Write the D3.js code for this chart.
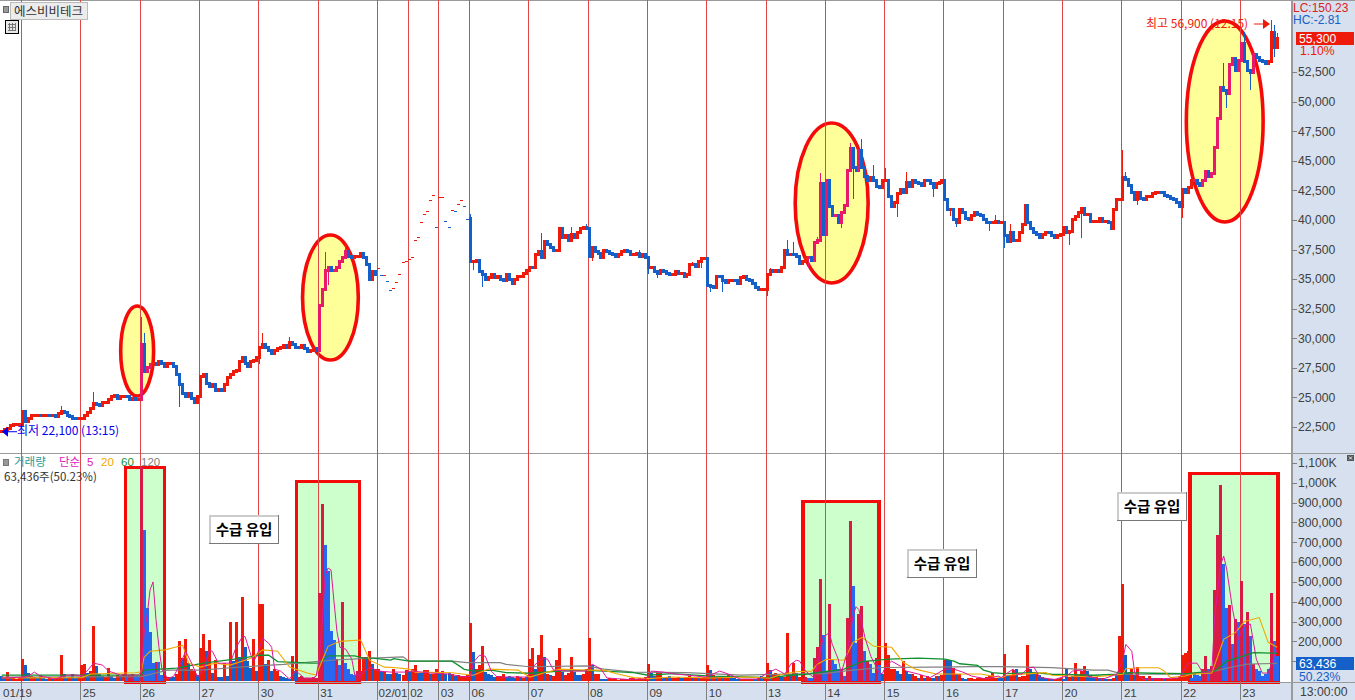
<!DOCTYPE html>
<html><head><meta charset="utf-8">
<script src="https://cdn.jsdelivr.net/npm/d3@7/dist/d3.min.js"></script>
<style>
html,body{margin:0;padding:0;background:#fff;overflow:hidden}
svg{display:block}
text{font-family:"Liberation Sans","Noto Sans CJK KR",sans-serif}
.kr{font-family:"Noto Sans CJK KR","Liberation Sans",sans-serif}
</style></head><body>
<svg id="c" width="1355" height="700"></svg>
<script>
// ---- sessions -------------------------------------------------------
const dayLabels=["01/19","25","26","27","30","31","02/01","02","03","06","07","08","09","10","13","14","15","16","17","20","21","22","23"];
const flatSessions=["02/01","02","03"]; // single-price sessions drawn as dashes
// ---- closing prices, one list per session ---------------------------
const closePre=[22150,22250,22400,22650,22750,22750,22750];
const close0119=[23800,23000,23200,23450,23500,23500,23450,23450,23500,23450,23450,23350,23600,23850,23700,23500,23350,23250,23200,23200];
const close25=[23250,23450,23700,24100,24450,24400,24300,24550,24600,24800,25050,25200,24950,25050,25100,25050,24850,24950,24850,24850];
const close26=[29450,27150,27500,27750,27900,27750,28000,27850,27650,27850,27900,27650,26900,26050,25350,25100,25300,24950,24600,25100];
const close27=[26800,26900,26150,25950,26050,25550,25650,25550,26050,26650,26900,27150,27300,28000,28400,27900,27650,28000,28150,28400];
const close30=[29250,29450,29250,29000,28750,29000,29100,29250,29350,29200,29600,29450,29250,29200,29350,29100,28850,29000,29100,29000];
const close31=[32800,34100,35750,35950,35750,35750,35950,36450,36800,37300,36950,36850,36950,36950,37200,36800,36200,34950,35600,35350];
const close0201=[35950,35350,35350,34850,34100,34250,34750,35450,36450,36500];
const close02=[36700,36850,38300,38550,39850,40500,40750,41700,42100,39400];
const close03=[41950,41950,39900,39400,40850,40750,41350,41700,41200,40100];
const close06=[36450,36500,36600,35600,35350,34950,35100,35350,35150,35250,35000,34850,35350,34950,34600,35000,35200,35250,35450,35700];
const close07=[36000,35950,37100,37300,36800,38150,37900,37700,37450,37450,39300,38550,38700,38300,38800,38550,38900,39300,39400,39300];
const close08=[36950,37650,37300,37200,36850,37450,37300,37200,37050,36950,37100,37300,37450,37300,37050,37100,37200,36950,37050,36850];
const close09=[35950,35950,35600,35500,35750,35600,35500,35350,35350,35600,35450,35450,35200,35350,36250,36250,36100,36450,36700,36700];
const close10=[34500,34350,34250,35250,35200,34900,34750,34900,34900,34850,34650,35100,35200,35000,34900,34650,34250,34100,34150,34150];
const close13=[35350,35750,35600,35750,35600,36000,37450,37050,37100,37050,36950,36350,36450,36800,36800,36600,38050,38300,43050,38800];
const close14=[43350,41100,40400,40400,39750,40650,41250,44200,46050,44450,44200,45900,44400,43650,43350,43550,43350,42850,42750,43350];
const close15=[43350,42000,41100,41450,42200,42550,42300,43200,42850,43350,43200,43050,42950,43350,43300,43050,42700,43050,43200,43350];
const close16=[41700,40850,40850,40000,39800,40850,40600,40150,40000,40400,40650,40500,40350,40000,39800,39750,39750,39900,39800,39800];
const close17=[38700,38150,38900,38300,38300,38950,39650,41250,39800,39300,38900,38800,38550,38800,38950,38900,38650,38550,38700,38800];
const close20=[39400,38950,39050,40000,40250,40650,41000,40500,40500,39900,39900,39900,40150,39900,39900,39750,39300,40900,41750,41750];
const close21=[43550,43450,42950,42300,41700,42300,41850,41750,41950,42000,42200,42350,42350,42300,42100,41950,41850,41750,41500,41150];
const close22=[42550,42350,42700,43350,43350,43100,42950,43350,44050,43700,43900,46150,48600,51200,50900,50700,53100,53600,52650,53500];
const close23=[54950,53350,52650,52500,53950,53750,53500,53350,53250,53350,55850,54550,55300];
// ---- wick extremes: [bar number, price] -----------------------------
const wickHigh=[[20,24250],[31,25450],[47,31800],[48,30450],[88,30450],[97,30100],[109,37300],[116,37950],[157,40500],[181,38900],[191,39400],[196,39650],[214,37450],[232,36450],[258,35950],[264,38300],[266,38150],[274,38550],[275,43950],[278,42600],[285,46500],[289,46850],[293,44650],[297,44350],[304,44050],[334,40400],[339,39650],[377,45900],[378,44050],[411,53250],[418,55850],[427,56900],[428,56450],[429,55800]];
const wickLow=[[9,22800],[60,24200],[87,27850],[110,34500],[158,35750],[161,34300],[198,36500],[217,35450],[220,35100],[235,35950],[238,33900],[242,33950],[257,33550],[271,35900],[282,39300],[286,41800],[298,41900],[301,40250],[313,41950],[319,40350],[321,39400],[332,39050],[337,37600],[359,37850],[363,38450],[382,41250],[397,40150],[412,49450],[420,51000],[428,53800]];
// ---- volume in thousands of shares, one list per session ------------
const volPre=[25,20,47,15,15,12,20];
const vol0119=[110,80,40,25,20,17,30,13,10,20,10,13,13,130,33,17,20,37,17,20];
const vol25=[80,85,40,50,280,75,33,25,20,65,25,17,30,25,33,25,30,33,25,25];
const vol26=[1080,760,370,245,90,98,98,30,17,20,20,20,35,200,115,213,90,60,50,30];
const vol27=[165,237,150,208,40,105,20,20,90,25,300,100,300,120,425,170,100,65,213,50];
const vol30=[390,390,85,105,50,60,50,25,20,15,10,125,50,20,25,15,15,15,20,15];
const vol31=[445,895,685,555,250,208,110,80,400,90,60,35,30,50,50,120,120,150,85,60];
const vol0201=[60,50,45,35,35,60,40,35,30,55];
const vol02=[45,60,80,40,40,55,55,35,35,60];
const vol03=[40,50,35,40,35,25,30,25,25,30];
const vol06=[295,147,60,80,177,47,35,30,20,25,25,35,20,25,20,15,25,20,15,20];
const vol07=[113,164,60,130,231,123,35,30,25,105,164,45,30,40,120,45,30,30,35,60];
const vol08=[216,80,35,35,10,10,10,15,10,10,5,12,8,8,15,15,10,15,10,18];
const vol09=[85,40,25,40,40,15,20,25,15,15,20,15,15,20,25,15,15,15,15,20];
const vol10=[80,55,30,20,20,18,25,35,20,15,12,10,8,8,8,8,8,15,25,20];
const vol13=[90,55,35,40,30,25,20,240,35,90,40,20,15,20,15,15,118,170,515,233];
const vol14=[50,390,105,85,60,60,25,320,808,480,190,338,380,150,100,85,40,118,80,35];
const vol15=[190,130,60,60,50,35,100,50,35,35,25,15,30,15,25,15,15,25,25,30];
const vol16=[105,105,105,65,35,35,15,12,15,15,12,15,15,15,20,25,40,15,15,15];
const vol17=[135,30,30,55,60,20,25,25,180,60,40,40,30,20,15,12,10,10,12,15];
const vol20=[10,60,20,25,93,30,50,76,50,30,20,20,15,15,12,10,10,15,30,225];
const vol21=[490,130,40,60,30,70,25,25,15,25,15,15,15,15,12,12,12,15,15,25];
const vol22=[132,140,150,15,40,30,25,60,127,60,75,460,737,990,590,370,383,185,315,300];
const vol23=[503,287,346,228,85,60,50,25,35,60,445,200,125];
// r = up bar, b = down bar
const volDirs="bbrbrrr"+"rbbrrbrbbrbrrrbbrbbr"+"rrbrrbbbrrbbrbrbrrbb"+"rbbbbrbbrrbbrrbrbrrb"+"rrbrbrbbrbrbrbrbbbrb"+"rrbrbrrbbbbrbrrrrrrr"+"rrbbbbrbrbbbbrrrbrbr"+"rbrbbrbbrr"+"brrbbrrbrr"+"brbbrbrrrr"+"rbrrrbbbbrrrbbbbrbrb"+"rrbrrbrbrrrbrrrbbbrr"+"rbrrbbbrrrrrrrrrrrrr"+"rbbrrbrbrrrbrrrbrbrr"+"rbrbrbrrbbbrrrrrbrbr"+"rbrrrbrrbrbrrrbbrrrb"+"brbbbrbrrbbrrbrbbrbb"+"rrrrbbrbbrrbrbrrbrbr"+"rbbrbrbbrrrrrrrrrrbb"+"rbrrbrrrrbbrbbbrbrrr"+"bbrbrbrrbbbrbrbrbrbr"+"rbbrbrrrbrbrrrbrrrrr"+"rrrbbbbrrbrrrrbbrbrb"+"rbrbrbbbbbrbb";
// ---- moving averages, sparse readings: [bar number, thousand shares] -
const ma5=[[0,15],[8,20],[10,35],[11,45],[13,25],[18,10],[22,30],[25,30],[27,25],[29,55],[31,90],[34,80],[36,50],[40,30],[46,30],[47,45],[48,240],[49,330],[50,460],[51,500],[52,310],[53,170],[54,60],[56,10],[58,25],[60,80],[62,150],[64,90],[66,20],[68,60],[70,155],[71,150],[73,90],[77,90],[79,170],[81,220],[82,225],[84,130],[85,100],[86,130],[88,215],[90,190],[91,170],[92,60],[94,50],[97,10],[99,50],[100,40],[102,15],[105,15],[106,25],[107,110],[108,290],[109,530],[110,570],[111,560],[112,400],[113,250],[114,170],[116,160],[118,110],[119,30],[121,30],[124,70],[127,50],[131,45],[136,45],[138,50],[144,40],[150,35],[155,20],[157,25],[158,95],[160,130],[162,125],[164,50],[166,20],[176,20],[178,70],[181,115],[183,110],[185,55],[190,50],[196,50],[198,85],[201,60],[203,15],[210,8],[216,10],[218,50],[222,45],[226,35],[230,30],[236,20],[238,30],[241,50],[244,35],[248,10],[254,10],[257,40],[260,60],[263,35],[265,85],[267,105],[268,100],[270,50],[273,15],[274,90],[276,220],[278,245],[279,185],[281,110],[282,40],[284,140],[286,330],[287,375],[288,360],[290,220],[292,125],[295,35],[296,40],[297,75],[299,100],[302,75],[304,50],[308,35],[312,17],[317,60],[319,60],[320,60],[323,45],[326,25],[331,10],[335,25],[336,17],[338,40],[340,60],[341,35],[343,35],[345,65],[347,70],[349,17],[354,8],[358,25],[360,50],[363,55],[365,25],[370,8],[375,35],[377,110],[378,185],[380,150],[381,40],[384,8],[396,15],[399,90],[402,90],[404,40],[407,50],[408,330],[410,590],[411,630],[412,565],[414,360],[416,210],[418,280],[420,287],[422,110],[424,40],[426,40],[428,125],[429,160]];
const ma20=[[0,15],[27,17],[30,35],[45,42],[47,47],[48,120],[50,150],[55,157],[61,180],[63,90],[67,70],[72,90],[77,80],[84,115],[88,157],[93,150],[97,70],[103,40],[106,30],[110,175],[114,200],[121,207],[124,105],[129,70],[132,68],[137,60],[139,45],[151,42],[155,34],[158,29],[163,60],[173,55],[177,20],[182,42],[187,60],[196,55],[202,55],[206,38],[212,17],[217,12],[225,20],[238,15],[250,20],[258,14],[262,34],[267,47],[272,50],[274,85],[277,110],[283,105],[286,195],[289,220],[293,175],[299,170],[303,93],[307,60],[314,35],[329,35],[336,17],[338,29],[351,42],[353,29],[367,20],[377,34],[378,62],[383,67],[389,67],[391,50],[393,17],[398,25],[400,34],[407,40],[411,210],[415,245],[418,300],[423,320],[426,195],[429,170]];
const ma60=[[0,30],[47,30],[48,55],[59,65],[68,90],[81,115],[87,130],[90,130],[93,98],[104,90],[107,90],[110,127],[119,127],[122,115],[125,115],[131,105],[132,113],[137,100],[151,100],[155,59],[158,50],[164,55],[169,42],[177,39],[187,50],[196,54],[202,50],[212,42],[217,29],[225,37],[238,25],[258,17],[265,29],[270,34],[283,60],[289,98],[298,110],[308,115],[317,110],[320,100],[322,87],[328,79],[330,55],[333,42],[337,37],[347,42],[353,34],[367,29],[375,34],[379,42],[387,39],[399,37],[400,39],[408,50],[412,100],[416,118],[421,143],[429,140]];
const ma120=[[0,20],[47,22],[56,55],[67,55],[82,72],[95,84],[112,106],[125,115],[135,122],[137,100],[151,100],[156,93],[167,93],[169,84],[177,72],[196,76],[202,60],[212,45],[230,42],[248,30],[276,37],[285,54],[296,68],[313,70],[327,73],[335,73],[353,67],[367,55],[372,55],[375,42],[378,34],[399,34],[408,50],[413,68],[419,85],[429,89]];
// ---- axis tick values -----------------------------------------------
const priceTicks=[22500,25000,27500,30000,32500,35000,37500,40000,42500,45000,47500,50000,52500];
const volumeTicks=[100,200,300,400,500,600,700,800,900,1000,1100];
// ---- annotations, in bar number / price or volume units -------------
const priceHighlights=[[40.6,51.7,32730,25120],[101.9,120.7,38730,28160],[267,291.6,48190,34670],[398.9,424.8,56810,39820]];
const volumeHighlights=[[42.3,55.4,1078],[99.8,121,1007],[269.7,295.3,906],[400.2,429.8,1048]];

const closeDays=[closePre,close0119,close25,close26,close27,close30,close31,close0201,close02,close03,close06,close07,close08,close09,close10,close13,close14,close15,close16,close17,close20,close21,close22,close23];
const volDays=[volPre,vol0119,vol25,vol26,vol27,vol30,vol31,vol0201,vol02,vol03,vol06,vol07,vol08,vol09,vol10,vol13,vol14,vol15,vol16,vol17,vol20,vol21,vol22,vol23];

// bars ---------------------------------------------------------------
const bars=[];const dayStarts=[];
closeDays.forEach((list,d)=>{
  if(d>0)dayStarts.push(bars.length);
  const flat=d>0&&flatSessions.includes(dayLabels[d-1]);
  list.forEach(c=>{
    const prev=bars.length?bars[bars.length-1].close:c;
    const up=c>=prev;
    bars.push({i:bars.length,close:c,open:flat?c:prev,up,flat,high:null,low:null});
  });
});
wickHigh.forEach(([i,p])=>bars[i].high=p);
wickLow.forEach(([i,p])=>bars[i].low=p);
const volumes=volDays.flat();

const svg=d3.select("#c");
const plotR=1291, volBase=681;
const x=d3.scaleLinear().domain([7,127,157,417]).range([21,377,469,1240]);
const yP=d3.scaleLinear().domain([22500,52500]).range([427,72]);
const yV=d3.scaleLinear().domain([0,1100]).range([volBase,463]);
const barW=3;

// panels
svg.append("rect").attr("x",plotR).attr("y",0).attr("width",1355-plotR).attr("height",700).attr("fill","#d6e0ee");
svg.append("rect").attr("x",0).attr("y",683).attr("width",1355).attr("height",17).attr("fill","#d6e0ee");

// highlights
const ell=priceHighlights.map(([a,b,hi,lo])=>{
  const x0=x(a),x1=x(b),y0=yP(hi),y1=yP(lo);
  return {cx:(x0+x1)/2,cy:(y0+y1)/2,rx:(x1-x0)/2,ry:(y1-y0)/2};
});
svg.append("g").selectAll("ellipse").data(ell).join("ellipse")
  .attr("cx",d=>d.cx).attr("cy",d=>d.cy).attr("rx",d=>d.rx).attr("ry",d=>d.ry)
  .attr("fill","#ffff99").attr("stroke","#f50a0a").attr("stroke-width",3.6);
svg.append("g").selectAll("rect").data(volumeHighlights).join("rect")
  .attr("x",d=>x(d[0])).attr("y",d=>yV(d[2])).attr("width",d=>x(d[1])-x(d[0])).attr("height",d=>volBase+1-yV(d[2]))
  .attr("fill","#ccffcc").attr("stroke","#f50a0a").attr("stroke-width",3.4).attr("shape-rendering","crispEdges");

// frame lines
const frame=svg.append("g").attr("stroke","#9a9a9a").attr("shape-rendering","crispEdges");
frame.append("line").attr("x1",0).attr("x2",1355).attr("y1",0.5).attr("y2",0.5);
frame.append("line").attr("x1",0).attr("x2",1355).attr("y1",453.5).attr("y2",453.5);
frame.append("line").attr("x1",0).attr("x2",1355).attr("y1",682.5).attr("y2",682.5);
frame.append("line").attr("x1",plotR+.5).attr("x2",plotR+.5).attr("y1",0).attr("y2",700).attr("stroke-width",2);

// day separators
svg.append("g").selectAll("line").data(dayStarts).join("line")
  .attr("x1",d=>Math.round(x(d))+.5).attr("x2",d=>Math.round(x(d))+.5).attr("y1",0).attr("y2",683)
  .attr("stroke","#e04848").attr("shape-rendering","crispEdges");

// candles
function inEllipse(b){
  const px=x(b.i)+barW/2, py=yP((b.open+b.close)/2);
  return ell.some(e=>((px-e.cx)/e.rx)**2+((py-e.cy)/e.ry)**2<1);
}
const candleColor=b=>b.up?(inEllipse(b)?"#e8186a":"#ee1a0a"):"#1560c8";
const candles=svg.append("g").attr("shape-rendering","crispEdges");
candles.selectAll("line").data(bars.filter(b=>b.high!==null||b.low!==null)).join("line")
  .attr("x1",b=>x(b.i)+1.5).attr("x2",b=>x(b.i)+1.5)
  .attr("y1",b=>yP(b.high!==null?b.high:Math.max(b.open,b.close)))
  .attr("y2",b=>yP(b.low!==null?b.low:Math.min(b.open,b.close)))
  .attr("stroke",candleColor).attr("stroke-width",1);
// a real candle body is never thinner than a few pixels on this screen
const pad=b=>b.flat?0:1.5;
candles.selectAll("rect").data(bars).join("rect")
  .attr("x",b=>x(b.i)).attr("width",barW)
  .attr("y",b=>yP(Math.max(b.open,b.close))-pad(b))
  .attr("height",b=>Math.max(1,Math.abs(yP(b.open)-yP(b.close))+2*pad(b)))
  .attr("fill",candleColor);

// volume bars
const inBox=i=>volumeHighlights.some(h=>i>=h[0]-.5&&i<=h[1]);
svg.append("g").attr("shape-rendering","crispEdges").selectAll("rect").data(volumes).join("rect")
  .attr("x",(v,i)=>x(i)).attr("width",barW)
  .attr("y",v=>yV(v)).attr("height",v=>volBase-yV(v))
  .attr("fill",(v,i)=>volDirs[i]==="r"?(inBox(i)?"#d81a46":"#ee1a0a"):(inBox(i)?"#2868f0":"#1560c8"));

// moving averages
const maLine=d3.line().x(d=>x(d[0])+1.5).y(d=>yV(d[1]));
[[ma120,"#808080",1.2],[ma60,"#109030",1.3],[ma20,"#f0a800",1.1],[ma5,"#e0189a",1]].forEach(([s,c,w])=>{
  svg.append("path").datum(s).attr("d",maLine).attr("fill","none").attr("stroke",c).attr("stroke-width",w);
});

// axes
function styleAxis(g){g.select(".domain").remove();g.selectAll("line").attr("stroke","#808080").attr("shape-rendering","crispEdges");
  g.selectAll("text").attr("fill","#404040").attr("font-size",12.2);}
svg.append("g").attr("transform",`translate(${plotR+1},0)`)
  .call(d3.axisRight(yP).tickValues(priceTicks).tickSize(5).tickPadding(1).tickFormat(d3.format(",")))
  .call(styleAxis);
svg.append("g").attr("transform",`translate(${plotR+1},0)`)
  .call(d3.axisRight(yV).tickValues(volumeTicks).tickSize(5).tickPadding(1).tickFormat(v=>v>=1000?d3.format(",")(v)+"K":d3.format(",")(v*1000)))
  .call(styleAxis);
const xAxis=svg.append("g").attr("transform","translate(0,683)")
  .call(d3.axisBottom(x).tickValues(dayStarts).tickSize(17).tickFormat((d,i)=>dayLabels[i]))
  .call(styleAxis);
xAxis.selectAll("text").attr("text-anchor","start").attr("font-size",11.6).attr("x",(d,i)=>i===0?-18.5:(dayLabels[i]==="02/01"?1:2)).attr("y",5).attr("dy",".75em");

// text helpers
function label(t,xp,yp,c,s,o={}){return svg.append("text").attr("x",xp).attr("y",yp).attr("fill",c).attr("font-size",s).attr("text-anchor",o.anchor||"start").attr("font-weight",o.weight||null).attr("class",o.kr?"kr":null).text(t);}

// title
svg.append("rect").attr("x",3).attr("y",6).attr("width",5).attr("height",6).attr("fill","#999").attr("stroke","#666").attr("shape-rendering","crispEdges");
svg.append("rect").attr("x",10.5).attr("y",2.5).attr("width",77).attr("height",17).attr("fill","#ececec").attr("stroke","#bbb").attr("shape-rendering","crispEdges");
label("에스비비테크",14,16,"#333",12.5,{kr:true});
const ic=svg.append("g").attr("shape-rendering","crispEdges");
ic.append("rect").attr("x",5.5).attr("y",20.5).attr("width",13).attr("height",13).attr("fill","#e8e8e8").attr("stroke","#000");
[9,12,15].forEach(v=>ic.append("line").attr("x1",v).attr("x2",v).attr("y1",23).attr("y2",31).attr("stroke","#777"));
[24,27,30].forEach(v=>ic.append("line").attr("x1",8).attr("x2",16).attr("y1",v).attr("y2",v).attr("stroke","#777"));

// low / high markers
const lowY=yP(22100);
svg.append("path").attr("d",`M2,${lowY}L8,${lowY-5}L8,${lowY+5}Z`).attr("fill","#0000ee");
svg.append("line").attr("x1",8).attr("x2",17).attr("y1",lowY).attr("y2",lowY).attr("stroke","#0000ee");
label("최저 22,100 (13:15)",17,435,"#0000ee",12,{kr:true});
label("최고 56,900 (12:15)",1146,28,"#ee1a0a",12,{kr:true});
svg.append("line").attr("x1",1254).attr("x2",1266).attr("y1",24).attr("y2",24).attr("stroke","#ee1a0a");
svg.append("path").attr("d","M1270,24L1263,19L1263,29Z").attr("fill","#ee1a0a");

// right panel readouts
label("LC:150.23",1293,12,"#e02020",12);
label("HC:-2.81",1293,24,"#1560c8",12);
svg.append("rect").attr("x",1296).attr("y",32).attr("width",58).attr("height",13).attr("fill","#ee1a0a");
label("55,300",1299,43,"#fff",12.2);
label("1.10%",1300,55,"#ee1a0a",12.2);
svg.append("rect").attr("x",1296).attr("y",657).attr("width",58).attr("height",13).attr("fill","#1560c8");
label("63,436",1299,668,"#fff",12.2);
label("50.23%",1299,681,"#1560c8",12.2);
label("13:00:00",1300,696,"#404040",12.2);

// volume legend
svg.append("rect").attr("x",3).attr("y",459).attr("width",5).attr("height",6).attr("fill","#999").attr("stroke","#777").attr("shape-rendering","crispEdges");
label("거래량",14,466,"#2a9a9a",11.5,{kr:true});
label("단순",59,466,"#e020c0",11.5,{kr:true});
label("5",87,466,"#e020c0",11.5);
label("20",101,466,"#f0a800",11.5);
label("60",121,466,"#109030",11.5);
label("120",141,466,"#808080",11.5);
label("63,436주(50.23%)",4,481,"#333",11.5,{kr:true});
svg.append("rect").attr("x",1347).attr("y",455).attr("width",7).attr("height",6).attr("fill","#555");
svg.append("path").attr("d","M1349,456.5L1352,459.5M1352,456.5L1349,459.5").attr("stroke","#eee").attr("fill","none");

// annotation boxes
[[209,515],[1117,492],[907,549]].forEach(([bx,by])=>{
  svg.append("rect").attr("x",bx+.5).attr("y",by+.5).attr("width",69).attr("height",28).attr("fill","#fff").attr("stroke","#777").attr("shape-rendering","crispEdges");
  svg.append("path").attr("d",`M${bx+1},${by+28}V${by+1}H${bx+69}`).attr("fill","none").attr("stroke","#ccc").attr("stroke-width",1.5).attr("shape-rendering","crispEdges");
  label("수급 유입",bx+35,by+20,"#000",14.5,{kr:true,anchor:"middle",weight:700});
});
</script>
</body></html>
